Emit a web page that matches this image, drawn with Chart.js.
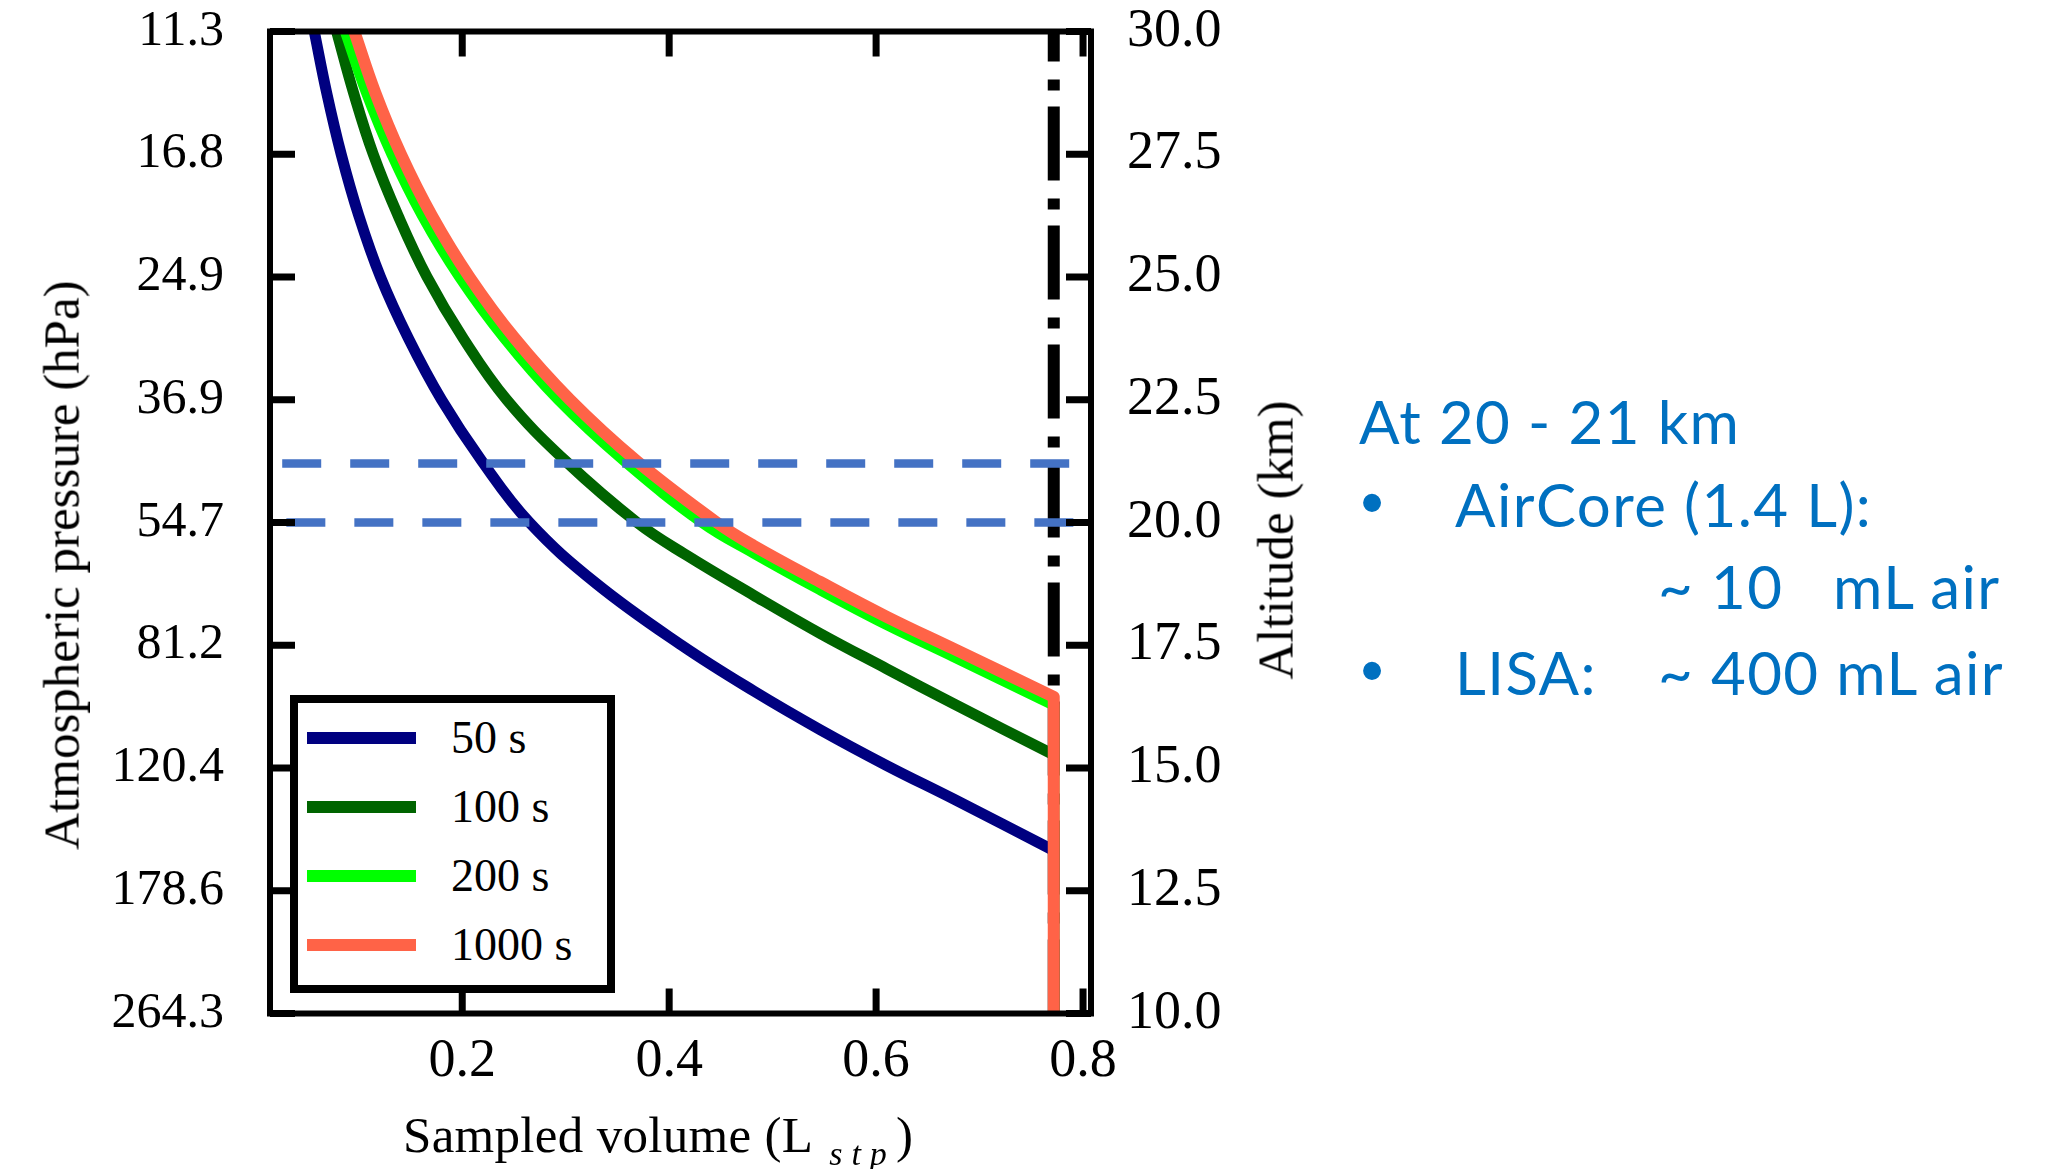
<!DOCTYPE html>
<html lang="en">
<head>
<meta charset="UTF-8">
<title>Sampled volume vs altitude</title>
<script src="https://cdn.jsdelivr.net/npm/chart.js@4.4.0/dist/chart.umd.min.js"></script>
<style>
  body { margin: 0; background: #fff; }
  #wrap { position: relative; width: 2050px; height: 1169px; overflow: hidden; font-family: 'Liberation Serif', serif; color: #000; }
  #chart { position: absolute; left: 0; top: 0; }
  .abs { position: absolute; white-space: nowrap; line-height: 1; }
  .vtitle { font-size: 51px; transform: translate(-50%, -50%) rotate(-90deg); }
  .sub { font-size: 34px; font-style: italic; letter-spacing: 9px; margin-left: 16px; position: relative; top: 13px; }
  /* legend box inside the plot */
  #legend { position: absolute; left: 290px; top: 695px; width: 325px; height: 298px; box-sizing: border-box; border: 8px solid #000; background: #fff; }
  #legend .row { height: 69px; display: flex; align-items: center; }
  #legend .swatch { display: inline-block; margin-left: 9px; width: 109px; height: 12px; }
  #legend .lab { margin-left: 35px; font-size: 46px; line-height: 1; }
  /* notes on the right */
  .note { position: absolute; white-space: nowrap; font-family: Lato, 'Open Sans', sans-serif; font-size: 60px; letter-spacing: 1.4px; line-height: 1; color: #0070C0; }
  .bullet { position: absolute; font-family: 'Liberation Sans', sans-serif; font-size: 66px; line-height: 1; color: #0070C0; transform: translate(-50%, -50%); }
</style>
</head>
<body>
<div id="wrap">
  <canvas id="chart" width="2050" height="1169"></canvas>

  <div class="abs vtitle" style="left:62px; top:565px;">Atmospheric pressure (hPa)</div>
  <div class="abs vtitle" style="left:1276px; top:540px;">Altitude (km)</div>
  <div class="abs" style="left:403px; top:1110px; font-size:51px; letter-spacing:0.3px;">Sampled volume (L<span class="sub">stp</span>)</div>

  <div id="legend"></div>

  <div class="note" style="left:1359px; top:391px;">At 20 - 21 km</div>
  <div class="bullet" style="left:1372px; top:502px;">•</div>
  <div class="note" style="left:1455px; top:474px;">AirCore (1.4 L):</div>
  <div class="note" style="left:1658px; top:556px;">~ 10</div>
  <div class="note" style="left:1833px; top:556px;">mL air</div>
  <div class="bullet" style="left:1372px; top:670px;">•</div>
  <div class="note" style="left:1455px; top:642px;">LISA:</div>
  <div class="note" style="left:1658px; top:642px;">~ 400 mL air</div>
</div>

<script>
    // ticks
    const volTicks = [0.2, 0.4, 0.6, 0.8];
    const altTicks = [10, 12.5, 15, 17.5, 20, 22.5, 25, 27.5, 30];
    const pressureLabels = ['264.3', '178.6', '120.4', '81.2', '54.7', '36.9', '24.9', '16.8', '11.3'];

    // series (sampled volume in L stp, altitude in km), up to where each curve meets the volume limit
    const seriesLabels = ['50 s', '100 s', '200 s', '1000 s'];
    const seriesColors = ['#000080', '#006400', '#00FF00', '#FF6347'];

    const vol50 = [0.057, 0.069, 0.083, 0.100, 0.121, 0.148, 0.180, 0.219, 0.265, 0.330, 0.412, 0.4815, 0.5459, 0.6103, 0.6747, 0.7717];
    const alt50 = [30.0, 28.75, 27.5, 26.25, 25.0, 23.75, 22.5, 21.25, 20.0, 18.75, 17.5, 16.57, 15.78, 15.05, 14.37, 13.32];

    const vol100 = [0.0786, 0.095, 0.114, 0.138, 0.166, 0.201, 0.243, 0.300, 0.369, 0.4171, 0.4815, 0.5459, 0.6103, 0.6747, 0.7717];
    const alt100 = [30.0, 28.75, 27.5, 26.25, 25.0, 23.75, 22.5, 21.25, 20.0, 19.33, 18.52, 17.74, 17.02, 16.31, 15.27];

    const vol200 = [0.087, 0.1075, 0.132, 0.1615, 0.1975, 0.241, 0.293, 0.357, 0.432, 0.4815, 0.5459, 0.6103, 0.6747, 0.7717];
    const alt200 = [30.0, 28.75, 27.5, 26.25, 25.0, 23.75, 22.5, 21.25, 20.0, 19.38, 18.63, 17.92, 17.27, 16.28];

    const vol1000 = [0.0957, 0.116, 0.1407, 0.1706, 0.2069, 0.2508, 0.3041, 0.3687, 0.446, 0.4815, 0.5459, 0.6103, 0.6747, 0.7717];
    const alt1000 = [30.0, 28.75, 27.5, 26.25, 25.0, 23.75, 22.5, 21.25, 20.0, 19.53, 18.79, 18.08, 17.43, 16.45];

    // 20 - 21 km band and the volume limit
    const bandAlt = [21.2, 20.0];
    const bandVolStart = [0.026, 0.030];
    const bandVolEnd = [0.794, 0.797];
    const limitVol = 0.7717;

    const xMin = 0.0142, xMax = 0.8077;

    // curve points, then straight down the limit to the bottom of the axis
    function pts(xs, ys) {
        const p = xs.map((x, i) => ({x: x, y: ys[i]}));
        const last = p[p.length - 1];
        p.push({x: last.x, y: last.y});
        p.push({x: limitVol, y: altTicks[0]});
        return p;
    }

    const curves = [[vol50, alt50], [vol100, alt100], [vol200, alt200], [vol1000, alt1000]];
    const datasets = curves.map((c, i) => ({
        label: seriesLabels[i],
        data: pts(c[0], c[1]),
        borderColor: seriesColors[i],
        borderWidth: i === 3 ? 12 : 11,
        borderCapStyle: 'butt',
        borderJoinStyle: 'round',
        pointRadius: 0,
        tension: 0.4,
        order: 4 - i
    }));

    bandAlt.forEach((h, i) => {
        datasets.push({
            label: 'band ' + h,
            data: [{x: bandVolStart[i], y: h}, {x: bandVolEnd[i], y: h}],
            borderColor: '#4472C4',
            borderWidth: 8.5,
            borderDash: [39, 29],
            borderCapStyle: 'butt',
            pointRadius: 0,
            order: 0
        });
    });

    datasets.push({
        label: 'limit',
        data: [{x: limitVol, y: altTicks[0]}, {x: limitVol, y: altTicks[altTicks.length - 1]}],
        borderColor: '#000',
        borderWidth: 12,
        borderDash: [74, 16, 11, 18],
        borderCapStyle: 'butt',
        pointRadius: 0,
        order: 5
    });

    // frame and inward tick marks
    const framePlugin = {
        id: 'frame',
        afterDatasetsDraw(chart) {
            const {ctx, chartArea: a, scales} = chart;
            ctx.save();
            ctx.strokeStyle = '#000';
            ctx.lineCap = 'butt';
            ctx.lineWidth = 7;
            ctx.beginPath();
            volTicks.forEach(v => {
                const px = scales.x.getPixelForValue(v);
                ctx.moveTo(px, a.bottom); ctx.lineTo(px, a.bottom - 25);
                ctx.moveTo(px, a.top); ctx.lineTo(px, a.top + 25);
            });
            altTicks.forEach(h => {
                const py = scales.y.getPixelForValue(h);
                ctx.moveTo(a.left, py); ctx.lineTo(a.left + 25, py);
                ctx.moveTo(a.right, py); ctx.lineTo(a.right - 25, py);
            });
            ctx.stroke();
            ctx.lineWidth = 6;
            ctx.strokeRect(a.left, a.top, a.right - a.left, a.bottom - a.top);
            ctx.restore();
        }
    };

    Chart.defaults.font.family = "'Liberation Serif', serif";
    Chart.defaults.color = '#000';

    const setTicks = list => scale => { scale.ticks = list.map(v => ({value: v})); };
    // fixed axis sizes so the plot frame lands where it is in the figure
    const fixWidth = w => s => { s.width = w; s.paddingTop = 0; s.paddingBottom = 0; };
    const fixHeight = h => s => { s.height = h; s.paddingLeft = 0; s.paddingRight = 0; };

    new Chart(document.getElementById('chart'), {
        type: 'line',
        data: {datasets: datasets},
        options: {
            responsive: false,
            animation: false,
            layout: {padding: {top: 31.5, left: 0, right: 0, bottom: 0}},
            plugins: {legend: {display: false}, tooltip: {enabled: false}},
            scales: {
                x: {
                    type: 'linear', position: 'bottom', min: xMin, max: xMax,
                    grid: {display: false}, border: {display: false},
                    afterBuildTicks: setTicks(volTicks),
                    afterFit: fixHeight(155.5),
                    ticks: {font: {size: 54}, padding: 8, maxRotation: 0, callback: v => v.toFixed(1)}
                },
                y: {
                    type: 'linear', position: 'left', min: 10, max: 30,
                    grid: {display: false}, border: {display: false},
                    afterBuildTicks: setTicks(altTicks),
                    afterFit: fixWidth(270),
                    ticks: {font: {size: 50}, padding: 38, callback: (v, i) => pressureLabels[i]}
                },
                y2: {
                    type: 'linear', position: 'right', min: 10, max: 30,
                    grid: {display: false}, border: {display: false},
                    afterBuildTicks: setTicks(altTicks),
                    afterFit: fixWidth(959),
                    ticks: {font: {size: 54}, padding: 28, callback: v => v.toFixed(1)}
                }
            }
        },
        plugins: [framePlugin]
    });

    // legend
    const legendBox = document.getElementById('legend');
    seriesLabels.forEach((lab, i) => {
        const row = document.createElement('div');
        row.className = 'row';
        row.innerHTML = `<span class="swatch" style="background:${seriesColors[i]}"></span><span class="lab">${lab}</span>`;
        legendBox.appendChild(row);
    });
</script>
</body>
</html>
